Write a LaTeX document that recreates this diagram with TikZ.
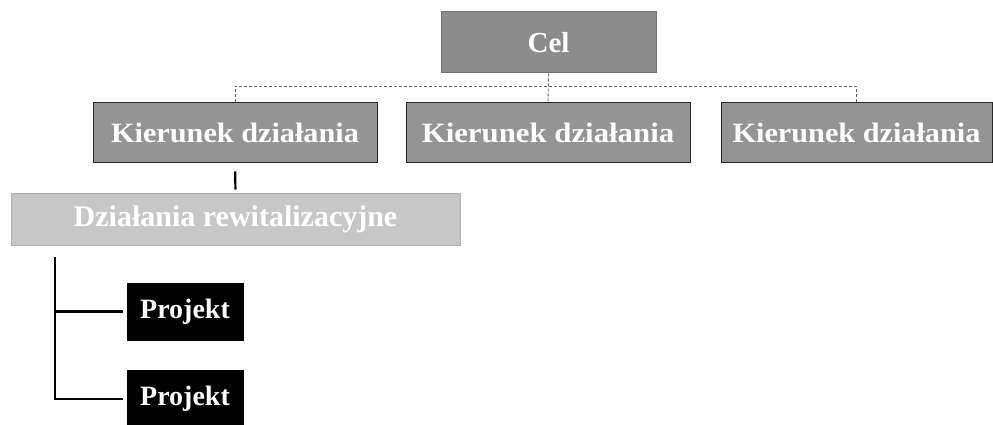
\documentclass[tikz,border=0pt]{standalone}
\usepackage{fontspec}
\setmainfont{Liberation Serif}
\begin{document}
\begin{tikzpicture}[x=1pt,y=-1pt,
  box/.style={draw=black!75,line width=1pt,inner sep=0pt,align=center,text=white,font=\bfseries},
  celbox/.style={box,fill=black!45,draw=black!55,minimum width=215pt,minimum height=61pt,font=\fontsize{29}{32}\selectfont\bfseries},
  kbox/.style={box,fill=black!42,draw=black!85,minimum height=59pt,font=\fontsize{28}{30}\selectfont\bfseries},
  dbox/.style={box,fill=black!22,draw=black!30,minimum width=449pt,minimum height=52pt,font=\fontsize{30}{32}\selectfont\bfseries},
  pbox/.style={box,fill=black,draw=black,minimum width=116pt,minimum height=57pt,font=\fontsize{28}{30}\selectfont\bfseries},
  thinlink/.style={draw=black!60,line width=0.9pt,densely dashed},
  thicklink/.style={draw=black,line width=2.2pt}]
\useasboundingbox (0,0) rectangle (993,425);
\node[celbox] (cel) at (548.5,42.5) {Cel};
\node[kbox,minimum width=284pt] (k1) at (235,132.5) {\scalebox{1.08}[1]{Kierunek działania}};
\node[kbox,minimum width=284pt] (k2) at (548,132.5) {\scalebox{1.1}[1]{Kierunek działania}};
\node[kbox,minimum width=271pt] (k3) at (856.5,132.5) {\scalebox{1.08}[1]{Kierunek działania}};
\node[dbox] (dz) at (235.5,219) {Działania rewitalizacyjne};
\node[pbox] (p1) at (185,311.5) {Projekt};
\node[pbox] (p2) at (185,399) {Projekt};
\draw[thinlink] (cel.south) -- (k2.north);
\draw[thinlink] (k1.north) -- ++(0,-16) -| (k3.north);
\draw[thicklink,shorten <=9pt,shorten >=3pt] (k1.south) -- (dz.north);
\coordinate (t) at (55,257);
\draw[thicklink] (t) |- ([xshift=-4pt]p1.west);
\draw[thicklink] (t) |- ([xshift=-4pt]p2.west);
\end{tikzpicture}
\end{document}
